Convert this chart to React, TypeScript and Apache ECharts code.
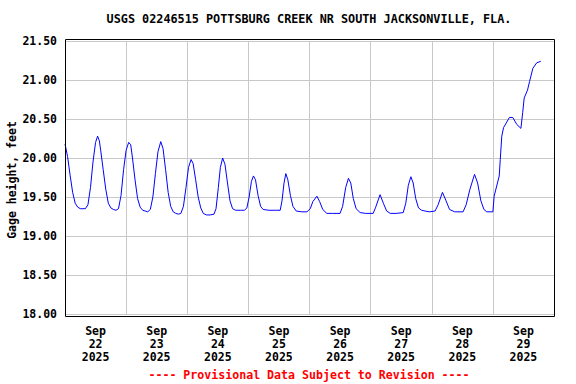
import React, { useEffect, useRef } from "react";
import * as echarts from "echarts";

const titleText = "USGS 02246515 POTTSBURG CREEK NR SOUTH JACKSONVILLE, FLA.";
const yAxisName = "Gage height, feet";
const footerText = "---- Provisional Data Subject to Revision ----";
const monthLabel = "Sep";
const yearLabel = "2025";
const dayLabels = ["22", "23", "24", "25", "26", "27", "28", "29"];
const yTicks = { min: 18, max: 21.5, step: 0.5 };

// hours since Sep 22 2025 00:00
const hours = [
  0, 1, 2, 3, 4, 5, 6, 7, 8, 9, 10, 11, 12, 12.8, 13.5, 14, 15, 16, 17, 18, 19, 20, 21, 22, 23, 24, 25,
  25.8, 26.5, 27.5, 28.5, 29.5, 30.5, 31.5, 32.5, 33.5, 34.5, 35.5, 36.5, 37.6, 38.5, 39.5, 40.5, 41.5,
  42.5, 43.5, 44.5, 45.5, 46.5, 47.5, 48.5, 49.5, 50.3, 51.3, 52.3, 53.3, 54.3, 55.5, 57, 58.5, 59.3,
  60.2, 61, 61.9, 62.8, 63.8, 64.8, 65.8, 67, 69, 70.5, 71.4, 72.3, 73.2, 74, 74.8, 75.8, 76.8, 77.8,
  80, 82.5, 84.5, 85.2, 86, 86.7, 87.5, 88.5, 89.5, 90.8, 93, 95, 96.3, 97.3, 98.9, 100, 101.2, 102.8,
  105, 108, 109, 110.2, 111.3, 112.2, 113.2, 114.3, 115.9, 118, 121, 122, 123.7, 125, 126.3, 127.7,
  130, 132.8, 133.8, 134.8, 135.8, 136.7, 137.7, 138.8, 140, 141.4, 143, 145.3, 146.5, 148.2, 149.5,
  151, 153, 156.3, 157.5, 159, 160.8, 162, 163.3, 164.5, 165.6, 168, 168.5, 169.8, 170.5, 170.9, 171.5,
  172.2, 174.5, 175.8, 177.4, 179, 179.7, 180.3, 181.6, 182.4, 183.7, 185.2, 186.8,
];

const gageHeight = [
  20.18, 20.02, 19.78, 19.56, 19.42, 19.37, 19.35, 19.35, 19.35, 19.4, 19.62, 19.95, 20.2, 20.28, 20.22,
  20.1, 19.85, 19.6, 19.42, 19.36, 19.34, 19.33, 19.35, 19.52, 19.85, 20.1, 20.2, 20.17, 20.0, 19.72,
  19.48, 19.37, 19.33, 19.32, 19.31, 19.34, 19.5, 19.8, 20.08, 20.21, 20.12, 19.85, 19.56, 19.38, 19.31,
  19.29, 19.28, 19.29, 19.38, 19.62, 19.88, 19.98, 19.93, 19.72, 19.5, 19.36, 19.29, 19.27, 19.27, 19.28,
  19.35, 19.62, 19.88, 20.0, 19.92, 19.68, 19.45, 19.35, 19.33, 19.33, 19.33, 19.36, 19.5, 19.7, 19.77,
  19.72, 19.52, 19.38, 19.34, 19.33, 19.33, 19.33, 19.45, 19.68, 19.8, 19.72, 19.52, 19.38, 19.32, 19.31,
  19.31, 19.35, 19.44, 19.51, 19.44, 19.34, 19.29, 19.29, 19.29, 19.38, 19.62, 19.74, 19.68, 19.48,
  19.35, 19.3, 19.29, 19.29, 19.37, 19.53, 19.42, 19.32, 19.29, 19.29, 19.3, 19.42, 19.65, 19.76, 19.68,
  19.48, 19.36, 19.33, 19.32, 19.31, 19.32, 19.4, 19.56, 19.46, 19.34, 19.31, 19.31, 19.4, 19.6, 19.79,
  19.68, 19.45, 19.34, 19.31, 19.31, 19.51, 19.68, 19.77, 19.98, 20.28, 20.39, 20.52, 20.52, 20.43,
  20.38, 20.58, 20.77, 20.87, 20.98, 21.15, 21.22, 21.24,
];

const FONT = "'DejaVu Sans Mono', monospace";

export default function App() {
  const ref = useRef<HTMLDivElement>(null);
  useEffect(() => {
    document.body.style.margin = "0";
    if (!ref.current) return;
    const chart = echarts.init(ref.current, undefined, { renderer: "svg" });
    const L = 65, T = 41, R = 554, B = 314;
    const totalHours = dayLabels.length * 24;
    chart.setOption({
      animation: false,
      backgroundColor: "#ffffff",
      grid: { left: L, top: T, width: R - L, height: B - T, containLabel: false, outerBoundsMode: "none" },
      xAxis: [
        {
          type: "value",
          min: 0,
          max: totalHours,
          interval: 24,
          axisLine: { show: false },
          axisTick: { show: false },
          axisLabel: { show: false },
          splitLine: { show: true, lineStyle: { color: "#c8c8c8", width: 1 } },
        },
        {
          type: "value",
          min: 0,
          max: totalHours,
          interval: 12,
          position: "bottom",
          axisLine: { show: false },
          axisTick: { show: false },
          splitLine: { show: false },
          axisLabel: {
            show: true,
            margin: 10,
            fontFamily: FONT,
            fontWeight: "bold",
            fontSize: 11.5,
            lineHeight: 13,
            color: "#000",
            formatter: (v: number) => {
              if (v % 24 !== 12) return "";
              const i = Math.round((v - 12) / 24);
              return `${monthLabel}\n${dayLabels[i]}\n${yearLabel}`;
            },
          },
        },
      ],
      yAxis: {
        type: "value",
        min: yTicks.min,
        max: yTicks.max,
        interval: yTicks.step,
        axisLine: { show: false },
        axisTick: { show: false },
        axisLabel: {
          margin: 8,
          fontFamily: FONT,
          fontWeight: "bold",
          fontSize: 11.5,
          color: "#000",
          formatter: (v: number) => v.toFixed(2),
        },
        splitLine: { show: true, lineStyle: { color: "#c8c8c8", width: 1 } },
      },
      series: [
        {
          type: "line",
          xAxisIndex: 0,
          data: hours.map((h, i) => [h, gageHeight[i]]),
          showSymbol: false,
          symbol: "none",
          lineStyle: { color: "#0000ff", width: 1 },
        },
      ],
      graphic: [
        {
          type: "rect",
          shape: { x: L + 0.5, y: 39.5, width: R - L, height: 316 - 39 },
          style: { fill: "none", stroke: "#000", lineWidth: 1 },
          silent: true,
          z: 100,
        },
        {
          type: "text",
          x: 12,
          y: 180,
          rotation: Math.PI / 2,
          style: {
            text: yAxisName,
            fontFamily: FONT,
            fontWeight: "bold",
            fontSize: 11.5,
            fill: "#000",
            align: "center",
            verticalAlign: "middle",
          },
        },
        {
          type: "text",
          x: 309,
          y: 19,
          style: {
            text: titleText,
            fontFamily: FONT,
            fontWeight: "bold",
            fontSize: 11.8,
            fill: "#000",
            align: "center",
            verticalAlign: "middle",
          },
        },
        {
          type: "text",
          x: 309,
          y: 375,
          style: {
            text: footerText,
            fontFamily: FONT,
            fontWeight: "bold",
            fontSize: 11.6,
            fill: "#ff0000",
            align: "center",
            verticalAlign: "middle",
          },
        },
      ],
    });
    return () => chart.dispose();
  }, []);
  return <div ref={ref} style={{ width: 576, height: 384 }} />;
}
